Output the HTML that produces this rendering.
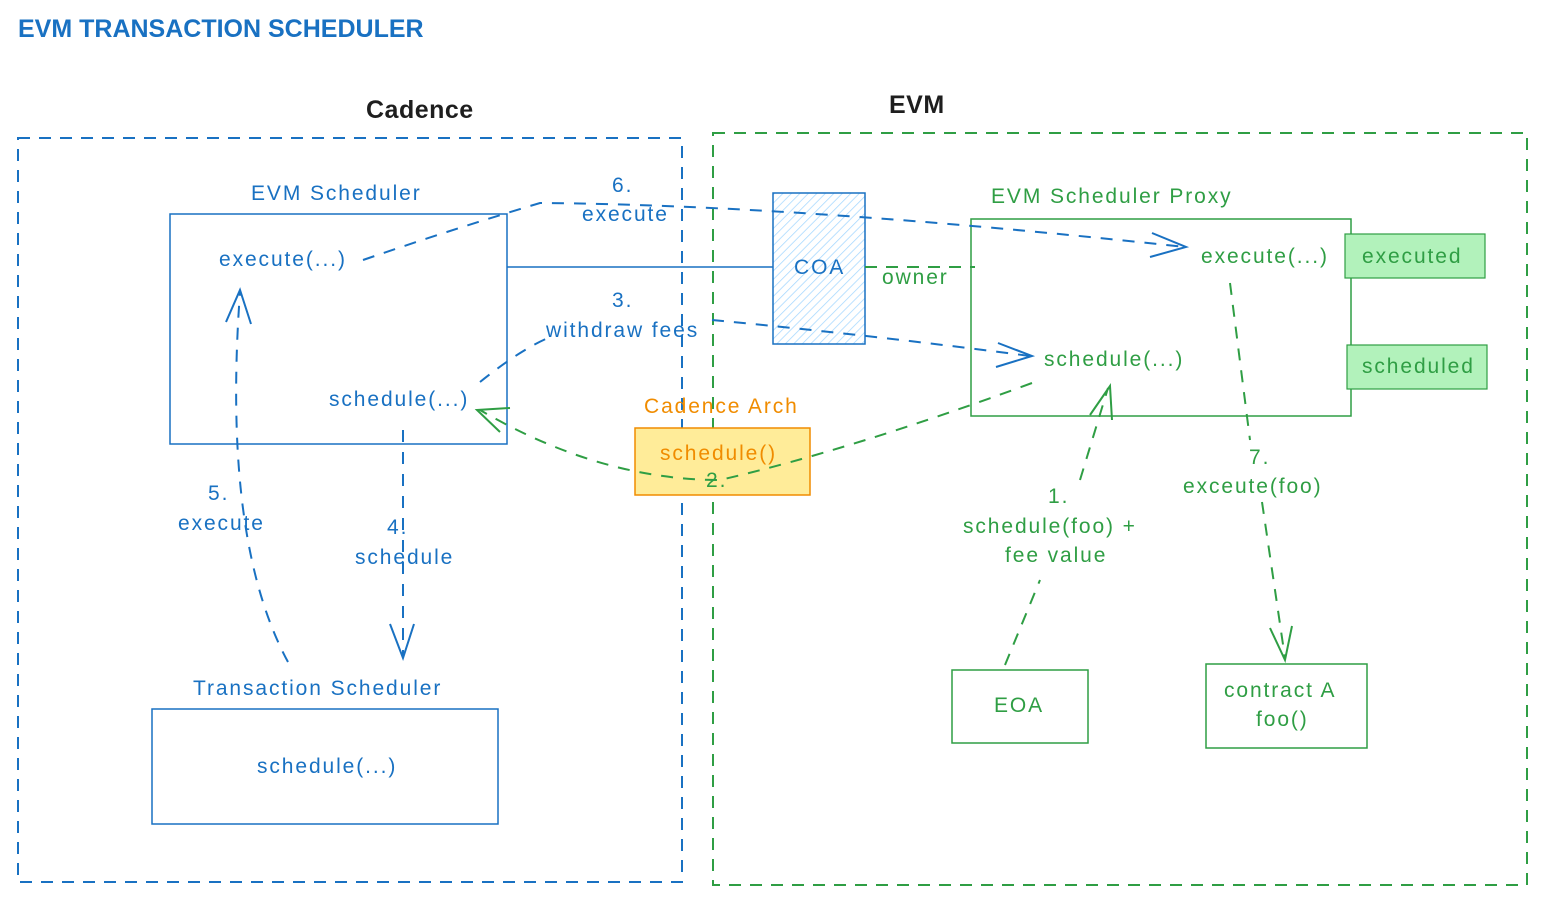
<!DOCTYPE html>
<html><head><meta charset="utf-8"><style>
html,body{margin:0;padding:0;background:#fff;}
svg{display:block;}
text{font-family:"Liberation Sans",sans-serif;letter-spacing:1.9px;}
.b{fill:#1971c2;font-size:21px;}
.g{fill:#2f9e44;font-size:21px;}
</style></head><body>
<svg width="1551" height="910" viewBox="0 0 1551 910" xmlns="http://www.w3.org/2000/svg">
<defs>
<pattern id="h" width="6" height="6" patternUnits="userSpaceOnUse" patternTransform="rotate(45)">
<line x1="0" y1="0" x2="0" y2="6" stroke="#a5d8ff" stroke-width="1.5"/></pattern>
</defs>
<text x="18" y="37" style="letter-spacing:0;font-weight:bold;font-size:25px;fill:#1971c2">EVM TRANSACTION SCHEDULER</text>
<text x="366" y="118" style="letter-spacing:0.5px;font-weight:bold;font-size:25px;fill:#1e1e1e">Cadence</text>
<text x="889" y="113" style="letter-spacing:0.5px;font-weight:bold;font-size:25px;fill:#1e1e1e">EVM</text>

<rect x="18" y="138" width="664" height="744" fill="none" stroke="#1971c2" stroke-width="2" stroke-dasharray="12 9"/>
<rect x="713" y="133" width="814" height="752" fill="none" stroke="#2f9e44" stroke-width="2" stroke-dasharray="12 9"/>

<text class="b" x="251" y="200">EVM Scheduler</text>
<rect x="170" y="214" width="337" height="230" fill="none" stroke="#1971c2" stroke-width="1.5"/>
<text class="b" x="219" y="266">execute(...)</text>
<text class="b" x="329" y="406">schedule(...)</text>
<line x1="507" y1="267" x2="773" y2="267" stroke="#1971c2" stroke-width="1.5"/>

<text class="b" x="193" y="695">Transaction Scheduler</text>
<rect x="152" y="709" width="346" height="115" fill="none" stroke="#1971c2" stroke-width="1.5"/>
<text class="b" x="257" y="773">schedule(...)</text>

<rect x="773" y="193" width="92" height="151" fill="url(#h)" stroke="#1971c2" stroke-width="1.5"/>
<text class="b" x="794" y="274">COA</text>
<line x1="865" y1="267" x2="975" y2="267" stroke="#2f9e44" stroke-width="2" stroke-dasharray="12 9"/>
<text class="g" x="882" y="284">owner</text>

<text x="644" y="413" style="fill:#f08c00;font-size:21px">Cadence Arch</text>
<rect x="635" y="428" width="175" height="67" fill="#ffec99" stroke="#f08c00" stroke-width="1.5"/>
<text x="660" y="460" style="fill:#f08c00;font-size:21px">schedule()</text>

<text class="g" x="991" y="203">EVM Scheduler Proxy</text>
<rect x="971" y="219" width="380" height="197" fill="none" stroke="#2f9e44" stroke-width="1.5"/>
<text class="g" x="1201" y="263">execute(...)</text>
<text class="g" x="1044" y="366">schedule(...)</text>
<rect x="1345" y="234" width="140" height="44" fill="#b2f2bb" stroke="#2f9e44" stroke-width="1.2"/>
<text class="g" x="1362" y="263">executed</text>
<rect x="1347" y="345" width="140" height="44" fill="#b2f2bb" stroke="#2f9e44" stroke-width="1.2"/>
<text class="g" x="1362" y="373">scheduled</text>

<rect x="952" y="670" width="136" height="73" fill="none" stroke="#2f9e44" stroke-width="1.5"/>
<text class="g" x="994" y="712">EOA</text>
<rect x="1206" y="664" width="161" height="84" fill="none" stroke="#2f9e44" stroke-width="1.5"/>
<text class="g" x="1224" y="697">contract A</text>
<text class="g" x="1256" y="726">foo()</text>

<g fill="none" stroke="#1971c2" stroke-width="2" stroke-dasharray="12 10">
<path d="M363 260 Q450 230 540 203 Q800 205 1185 247"/>
<path d="M480 382 Q520 350 548 338"/>
<path d="M712 320 Q870 335 1030 356"/>
<path d="M403 430 L403 655"/>
<path d="M288 662 Q222 540 240 292"/>
</g>
<g fill="none" stroke="#1971c2" stroke-width="2">
<path d="M1152 233 L1186 247 L1150 257"/>
<path d="M998 343 L1032 356 L996 367"/>
<path d="M390 624 L403 658 L414 624"/>
<path d="M226 322 L240 290 L251 324"/>
</g>
<text class="b" x="612" y="192">6.</text>
<text class="b" x="582" y="221">execute</text>
<text class="b" x="612" y="307">3.</text>
<text class="b" x="546" y="337">withdraw fees</text>
<text class="b" x="387" y="534">4.</text>
<text class="b" x="355" y="564">schedule</text>
<text class="b" x="208" y="500">5.</text>
<text class="b" x="178" y="530">execute</text>

<g fill="none" stroke="#2f9e44" stroke-width="2" stroke-dasharray="12 10">
<path d="M1032 383 Q850 450 720 480 Q600 480 480 410"/>
<path d="M1005 665 L1040 580"/>
<path d="M1080 480 L1108 388"/>
<path d="M1230 283 L1250 440"/>
<path d="M1262 502 L1285 658"/>
</g>
<g fill="none" stroke="#2f9e44" stroke-width="2">
<path d="M510 408 L477 410 L500 432"/>
<path d="M1090 415 L1110 386 L1112 420"/>
<path d="M1270 628 L1285 660 L1292 626"/>
</g>
<text class="g" x="706" y="487">2.</text>
<text class="g" x="1048" y="503">1.</text>
<text class="g" x="963" y="533">schedule(foo) +</text>
<text class="g" x="1005" y="562">fee value</text>
<text class="g" x="1249" y="464">7.</text>
<text class="g" x="1183" y="493">exceute(foo)</text>
</svg>
</body></html>
